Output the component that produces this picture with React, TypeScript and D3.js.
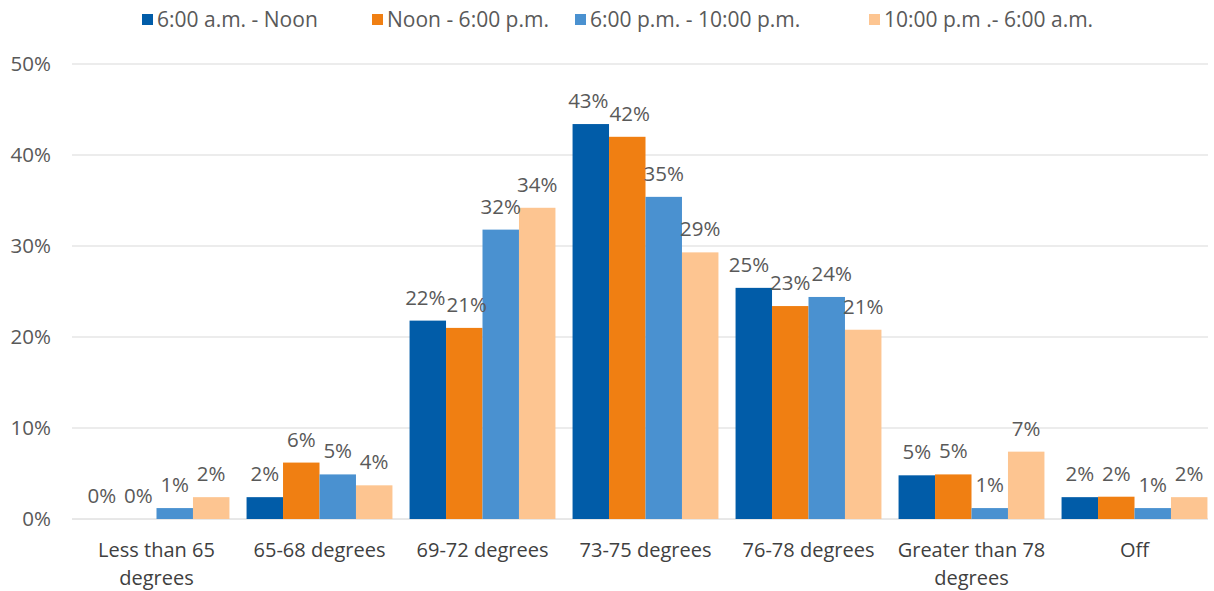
import React from "react";
import * as d3 from "d3";

const categories = [
  "Less than 65 degrees",
  "65-68 degrees",
  "69-72 degrees",
  "73-75 degrees",
  "76-78 degrees",
  "Greater than 78 degrees",
  "Off",
];
const categoryLines = [
  ["Less than 65", "degrees"],
  ["65-68 degrees"],
  ["69-72 degrees"],
  ["73-75 degrees"],
  ["76-78 degrees"],
  ["Greater than 78", "degrees"],
  ["Off"],
];
const seriesNames = [
  "6:00 a.m. - Noon",
  "Noon - 6:00 p.m.",
  "6:00 p.m. - 10:00 p.m.",
  "10:00 p.m .- 6:00 a.m.",
];
const morning = [0.0, 2.4, 21.8, 43.4, 25.4, 4.8, 2.4];
const afternoon = [0.0, 6.2, 21.0, 42.0, 23.4, 4.9, 2.45];
const evening = [1.2, 4.9, 31.8, 35.4, 24.4, 1.2, 1.2];
const night = [2.4, 3.7, 34.2, 29.3, 20.8, 7.4, 2.4];
const seriesValues = [morning, afternoon, evening, night];
const colors = ["#015CA8", "#F07F12", "#4A91D0", "#FDC591"];
const yTicks = [0, 10, 20, 30, 40, 50];

const W = 1214;
const H = 591;
const plotLeft = 75;
const plotRight = 1216;
const gridRight = 1208;
const y0 = 519;
const y50 = 64;
const LABEL_SIZE = 20.5;
const LABEL_GAP = 16;
const FONT = "'Open Sans', sans-serif";

let ctx: CanvasRenderingContext2D | null = null;
function measure(s: string): number {
  if (!ctx) {
    const c = document.createElement("canvas");
    ctx = c.getContext("2d");
  }
  if (!ctx) return s.length * 12;
  ctx.font = `${LABEL_SIZE}px ${FONT}`;
  return ctx.measureText(s).width;
}

export default function App() {
  const x = d3
    .scaleBand<string>()
    .domain(categories)
    .range([plotLeft, plotRight])
    .paddingInner(0)
    .paddingOuter(0);
  const groupW = x.bandwidth() * 0.895;
  const xs = d3
    .scaleBand<number>()
    .domain([0, 1, 2, 3])
    .range([0, groupW])
    .padding(0);
  const y = d3.scaleLinear().domain([0, 50]).range([y0, y50]);
  const legendX = [142, 372, 575, 869];

  const groups = categories.map((c, ci) => {
    const gx = (x(c) as number) + (x.bandwidth() - groupW) / 2;
    const items = seriesValues.map((vals, si) => {
      const v = vals[ci];
      const bx = gx + (xs(si) as number);
      const top = y(v);
      const text = `${Math.round(v)}%`;
      return {
        si,
        v,
        bx,
        top,
        text,
        cx: bx + xs.bandwidth() / 2,
        ly: top - LABEL_GAP,
        w: measure(text),
      };
    });
    // simple overlap avoidance between neighbouring labels
    for (let iter = 0; iter < 5; iter++) {
      for (let i = 0; i < items.length - 1; i++) {
        const a = items[i];
        const b = items[i + 1];
        if (Math.abs(a.ly - b.ly) < 20) {
          const need = (a.w + b.w) / 2 + 1;
          const have = b.cx - a.cx;
          if (have < need) {
            const d = (need - have) / 2;
            a.cx -= d;
            b.cx += d;
          }
        }
      }
    }
    return { c, ci, items };
  });

  return (
    <svg
      width={W}
      height={H}
      style={{ position: "absolute", left: 0, top: 0, background: "#fff" }}
      fontFamily={FONT}
    >
      {yTicks.map((t) => (
        <g key={t}>
          <line
            x1={72}
            x2={gridRight}
            y1={y(t)}
            y2={y(t)}
            stroke={t === 0 ? "#d0d0d0" : "#d9d9d9"}
            strokeWidth={1}
          />
          <text
            x={51}
            y={y(t)}
            dy="0.35em"
            textAnchor="end"
            fontSize={20.5}
            fill="#595959"
          >
            {t}%
          </text>
        </g>
      ))}
      {groups.map(({ c, ci, items }) => (
        <g key={c}>
          {items.map((it) => (
            <rect
              key={"r" + it.si}
              x={it.bx}
              y={it.top}
              width={xs.bandwidth()}
              height={y0 - it.top}
              fill={colors[it.si]}
            />
          ))}
          {items.map((it) => (
            <text
              key={"t" + it.si}
              x={it.cx}
              y={it.ly}
              textAnchor="middle"
              fontSize={LABEL_SIZE}
              fill="#595959"
            >
              {it.text}
            </text>
          ))}
          {categoryLines[ci].map((line, li) => (
            <text
              key={li}
              x={(x(c) as number) + x.bandwidth() / 2}
              y={557 + li * 28}
              textAnchor="middle"
              fontSize={20}
              fill="#404040"
            >
              {line}
            </text>
          ))}
        </g>
      ))}
      {seriesNames.map((s, i) => (
        <g key={s}>
          <rect x={legendX[i]} y={14} width={11} height={11} fill={colors[i]} />
          <text x={legendX[i] + 15} y={20} dy="0.35em" fontSize={21} fill="#595959">
            {s}
          </text>
        </g>
      ))}
    </svg>
  );
}
